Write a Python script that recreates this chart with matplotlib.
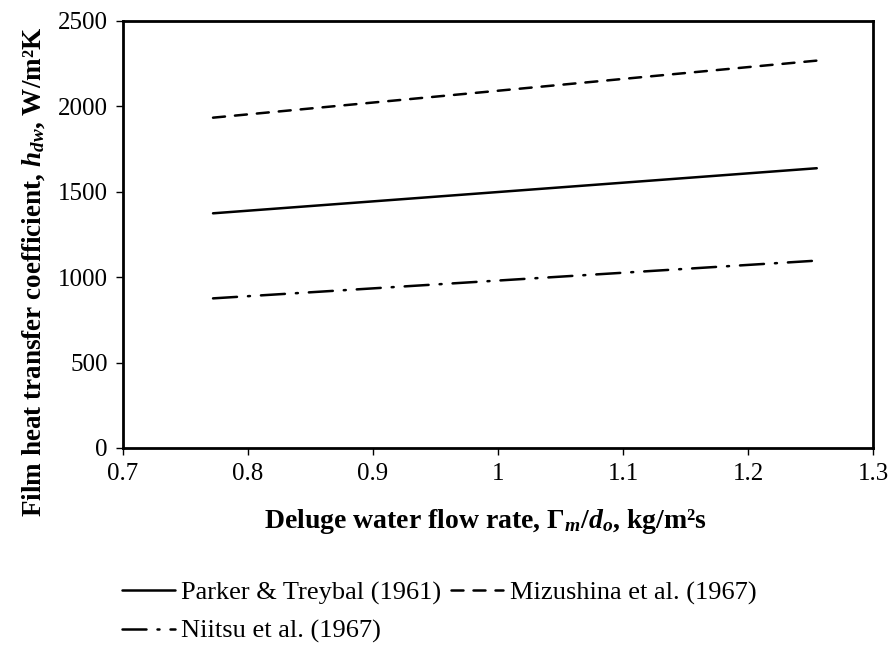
import matplotlib.pyplot as plt
import numpy as np

# Data
flow_rate = [0.772, 1.255]
parker_treybal = [1374, 1638]
mizushina = [1934, 2268]
niitsu = [876, 1097]

x_ticks = [0.7, 0.8, 0.9, 1.0, 1.1, 1.2, 1.3]
x_tick_labels = ["0.7", "0.8", "0.9", "1", "1.1", "1.2", "1.3"]
y_ticks = [0, 500, 1000, 1500, 2000, 2500]

plt.rcParams["font.family"] = ["Liberation Serif", "DejaVu Serif"]
plt.rcParams["mathtext.fontset"] = "custom"
plt.rcParams["mathtext.rm"] = "Liberation Serif"
plt.rcParams["mathtext.it"] = "Liberation Serif:italic"
plt.rcParams["mathtext.bf"] = "Liberation Serif:bold"
plt.rcParams["mathtext.bfit"] = "Liberation Serif:italic:bold"

fig = plt.figure(figsize=(8.89, 6.52), dpi=100)
ax = fig.add_axes([0.1384, 0.3129, 0.982 - 0.1384, 0.9678 - 0.3129])

lw = 1.8
l1, = ax.plot(flow_rate, parker_treybal, color="black", lw=lw,
              solid_capstyle="round", label="Parker & Treybal (1961)")
l2, = ax.plot(flow_rate, mizushina, color="black", lw=lw,
              linestyle=(0, (4.8, 4.0)), dash_capstyle="round",
              label="Mizushina et al. (1967)")
l3, = ax.plot(flow_rate, niitsu, color="black", lw=lw,
              linestyle=(0, (9.6, 4.4, 0.8, 4.4)), dash_capstyle="round",
              label="Niitsu et al. (1967)")

ax.set_xlim(0.7, 1.3)
ax.set_ylim(0, 2500)
ax.set_xticks(x_ticks)
ax.set_xticklabels(x_tick_labels)
ax.set_yticks(y_ticks)
ax.tick_params(direction="out", length=5, width=1, labelsize=18, pad=6)
for s in ax.spines.values():
    s.set_linewidth(2)

ax.set_xlabel(r"Deluge water flow rate, $\mathbf{\Gamma}_{\mathbfit{m}}$/$\mathbfit{d}_{\mathbfit{o}}$, kg/m²s",
              fontsize=20, fontweight="bold")
ax.xaxis.set_label_coords(0.483, -0.139)
ax.set_ylabel(r"Film heat transfer coefficient, $\mathbfit{h}_{\mathbfit{dw}}$, W/m²K",
              fontsize=19.5, fontweight="bold")
ax.yaxis.set_label_coords(-0.101, 0.412)

# column-major fill: Parker & Niitsu in col 1, Mizushina in col 2
fig.legend([l1, l3, l2], [l1.get_label(), l3.get_label(), l2.get_label()],
           ncol=2, loc="upper left", bbox_to_anchor=(0.137, 0.109),
           frameon=False, fontsize=19, handlelength=2.0,
           handletextpad=0.25, columnspacing=0.35, labelspacing=0.55,
           borderaxespad=0, borderpad=0)

fig.savefig("out.png", dpi=100)
